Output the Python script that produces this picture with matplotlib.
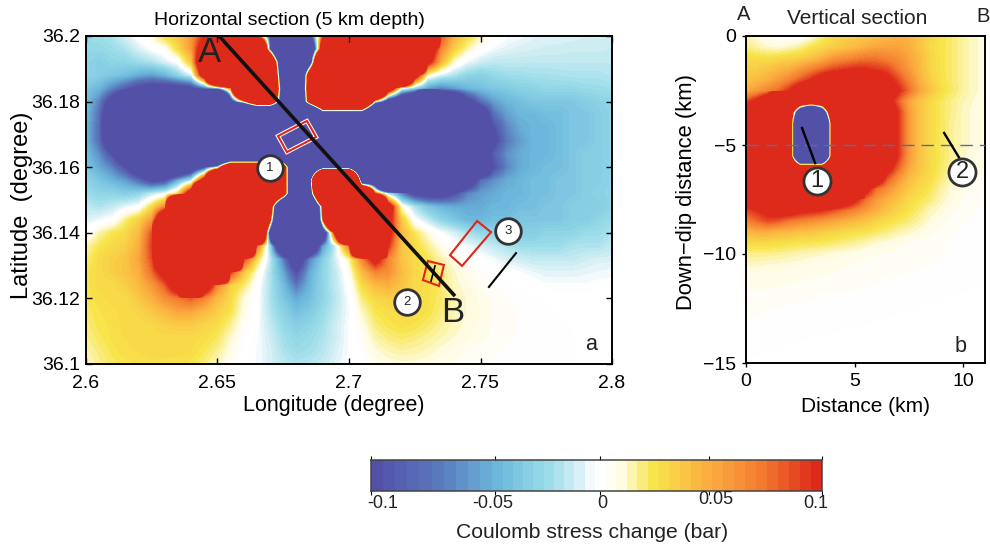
import numpy as np
import matplotlib
matplotlib.use("Agg")
import matplotlib.pyplot as plt
from matplotlib.colors import LinearSegmentedColormap, ListedColormap, Normalize
from matplotlib.patches import Polygon

plt.rcParams['font.family'] = ['Liberation Sans', 'DejaVu Sans']

# Horizontal section, stress in 0.01 bar, columns 2.6..2.8 by 0.005, rows 36.2..36.1 by 0.004
R = 80
B = -80
horizontal = [
[-2.6,-2.4,-2,-1,0,1,3,4,6,10,R,R,R,10,-10,B,B,-12,9,R,R,R,R,R,R,R,R,9,5,3,1.5,.5,-.3,-.5,-.8,-.9,-1,-1,-1.1,-1.1,-1.2],
[-2.8,-2.8,-2.5,-2,-1,-.2,.5,3,6,14,R,R,R,R,-8,B,B,-30,20,R,R,R,R,R,R,R,15,7,3.5,1.5,.2,-.5,-.8,-1,-1.1,-1.2,-1.2,-1.3,-1.3,-1.3,-1.4],
[-3,-3.5,-3,-3,-2.5,-2,-1,0,4,20,R,R,R,R,60,-51,B,-24,R,R,R,R,R,R,R,R,12,5,1,-.5,-1.3,-1.6,-1.6,-1.6,-1.6,-1.6,-1.6,-1.6,-1.6,-1.6,-1.6],
[-3,-3.5,-4,-4.5,-5.5,-6,-5,-3,-1,15,R,R,R,R,R,-45,B,30,R,R,R,R,R,R,R,15,1,-1,-2,-3,-3.3,-2.8,-2.4,-2.4,-2.2,-2.2,-2.1,-2,-2,-2,-1.8],
[-4,-5,-7,-9,-11,-12,-12,-12,-11,-8,-5,8,R,R,R,-30,B,35,R,R,R,R,R,20,.5,-3,-6,-7,-6,-5,-4.5,-4,-3.8,-3.3,-3.2,-2.8,-2.8,-2.8,-2.6,-2.5,-2.4],
[-4.5,-7,-12,-20,B,B,B,B,B,B,B,-15,5,45,45,-30,B,25,R,R,R,R,2,-15,-20,-25,B,-25,-20,-12,-8,-6,-5,-4.5,-4,-4,-4,-4,-3.5,-3.2,-3],
[-4.5,-8,-15,B,B,B,B,B,B,B,B,B,-105,-105,-105,B,B,-120,-36,-36,-36,-36,B,B,B,B,B,B,B,-25,-15,-8,-6,-5,-5,-4.5,-4.5,-4,-4,-3.5,-3],
[-5,-8,-18,B,B,B,B,B,B,B,B,B,B,B,B,B,B,B,B,B,B,B,B,B,B,B,B,B,B,B,-14,-10,-7,-5.5,-5,-5,-4.5,-4,-4,-3.5,-3],
[-5,-8,-15,B,B,B,B,B,B,B,B,B,B,B,B,B,B,B,B,B,B,B,B,B,B,B,B,B,B,B,-14,-11,-7.5,-6,-5,-5,-4.5,-4,-4,-3.5,-3],
[-4.5,-6.5,-10,-15,B,B,B,B,B,B,B,B,B,B,B,B,B,B,B,B,B,B,B,B,B,B,B,B,B,-25,-13,-9,-6.5,-5.5,-5,-5,-4.5,-4,-3.5,-3.5,-3],
[-4,-5.5,-7,-10,-14,-18,-20,-20,-15,-10,-1,50,50,50,50,36,B,B,-24,-24,-24,B,B,B,B,B,B,B,B,B,-20,-10,-7,-5.5,-5,-4.5,-4.5,-4,-3.5,-3.5,-3],
[-3,-4,-5,-6,-8,-11,-10,-5,-1.5,15,R,R,R,R,R,36,B,-30,200,200,200,-35,-25,B,B,B,B,B,-25,-15,-8,-6.5,-5.5,-5,-4.5,-4.5,-4,-4,-3.5,-3.5,-3],
[-2.5,-3,-3,-3.5,-3,-1.5,-.3,3,15,R,R,R,R,R,R,36,B,-30,100,R,R,R,10,-2,-7,-11,-12,-12,-10,-7,-6,-5.5,-5,-5,-4.5,-4.5,-4,-4,-3.5,-3.2,-3],
[-1.5,-2,-1.5,-.7,0,3,7,R,R,R,R,R,R,R,30,B,B,B,15,R,R,R,R,15,1,-2,-4,-5,-5.5,-5.5,-5.5,-5,-5,-4.5,-4.5,-4,-4,-3.5,-3.5,-3.5,-3],
[-1,-.5,0,2,3.5,6,20,R,R,R,R,R,R,R,15,B,B,B,9,R,R,R,R,12,4,0,-1.5,-3,-4,-5,-5,-4.5,-4.5,-4,-4,-4,-4,-3.5,-3.5,-3,-2.5],
[0,1.5,2.5,3,4.5,9,R,R,R,R,R,R,R,R,-15,B,B,B,-20,15,R,R,R,12,4.5,2.5,1,-.2,-1,-2,-2.8,-3,-3.5,-3.5,-3.5,-3,-3,-3,-2.5,-2.5,-2],
[1.5,2.5,3,3.5,5,9.5,R,R,R,R,R,R,R,8,-2.5,-20,B,-20,-6,-1,8,R,R,10,4,3,1.8,.8,0,-.5,-1,-1.5,-2,-2.5,-2.5,-2.5,-2.5,-2,-2,-2,-1.5],
[2,3,3.5,4,5.5,9,20,R,R,R,R,R,10,3,-1.5,-7,-14,-7,-3.5,-1,1.5,7,12,7,4,3,2.5,1.5,.8,.3,0,-.5,-1,-1.2,-1.5,-1.5,-1.5,-1.5,-1.2,-1,-1],
[2.5,3,3.5,4,5,8,12,22,R,R,R,10,4,1,-2,-5.5,-10,-5.5,-3,-1.5,.5,4.5,7,6.5,4.5,3,2.7,2,1.2,.7,.4,.2,0,-.3,-.6,-.8,-.8,-.8,-.7,-.6,-.5],
[2.5,3,3,3.5,4.5,6,8.5,14,R,15,7,3.5,2.2,.2,-2,-4.5,-7.5,-5,-3,-1.5,0,3,4.5,5,4,3,2.8,2.2,1.3,.9,.6,.4,.2,.1,0,-.3,-.3,-.3,-.3,-.2,-.2],
[2.5,2.8,3,3,3.8,5,6.5,7.5,8.5,7,4.5,3,1,0,-2,-4,-5.5,-4.5,-3,-1.7,-.3,2,3,3.5,3.2,3,2.7,2.2,1.5,1.1,.8,.6,.4,.3,.2,.1,0,0,0,0,0],
[2.2,2.6,2.8,3,3.2,3.8,4.6,5.5,5.5,4.5,3.5,2.6,.8,0,-1.8,-3.2,-4.5,-3.8,-2.6,-1.5,-.4,1.3,2.5,2.8,3,3,2.6,2,1.4,1.1,.9,.6,.45,.35,.3,.2,.1,0,0,0,0],
[2,2.5,2.7,3,3,3.1,3.5,3.7,3.7,3.2,2.8,1.8,.5,-.2,-1.5,-2.7,-3.5,-3,-2.3,-1.2,-.3,.8,2,2.5,2.8,2.6,2.2,1.7,1.3,1,.8,.6,.45,.35,.3,.3,.2,.1,0,0,0],
[1.8,2.3,2.7,2.9,3,3,3,3,3,2.8,2.3,1.2,.3,-.3,-1.2,-2.3,-2.9,-2.6,-2,-1.2,-.3,.5,1.5,2,2.2,2,1.7,1.4,1.1,.9,.7,.55,.4,.35,.3,.3,.3,.15,0,0,0],
[1.5,2,2.5,2.8,2.9,3,3,3,2.9,2.4,1.8,.8,.1,-.4,-1,-2,-2.5,-2.3,-1.8,-1,-.3,.3,1,1.4,1.6,1.5,1.3,1,.8,.6,.5,.4,.35,.3,.3,.3,.3,.2,0,0,0],
[1.2,1.8,2.2,2.5,2.7,2.8,2.8,2.7,2.5,2,1.3,.5,0,-.4,-1,-1.6,-2,-1.8,-1.4,-.8,-.2,.2,.6,.9,1,1,.9,.7,.6,.5,.4,.35,.3,.3,.3,.3,.3,.25,0,0,0],
]

# Vertical section, stress in 0.01 bar, columns 0..11 km by 0.5, rows 0..-15 km by 0.5
Q = 60
vertical = [
[1.5,1,.5,.2,.1,.2,.8,2,3,3.3,3.5,3.8,4,4.5,5,4.8,4,3.2,2.6,2.1,1.6,1.2,1],
[2,1.5,1.2,1,1.3,1.7,2.5,3,3.5,4,4.5,5,5.5,5.5,5.5,5,4,3,2.5,2.1,1.6,1.2,1],
[3,2.8,2.7,3,3.2,3.5,4,4.8,6,6.5,7,7.5,7.5,7,6.5,5.5,4.5,3.2,2.5,2.1,1.6,1.2,1],
[3.5,3.5,4,4.5,5,6,7,8,9,9.5,10,10,9.5,9,7.5,6,4.5,3.2,2.5,2.1,1.6,1.2,1],
[4,4.5,5,6,7,8.5,10,12,13,14,14,14,13,11,9,7,5,3.5,2.6,2.1,1.6,1.2,1],
[5,6,7,8,10,13,15,Q,Q,Q,Q,Q,18,13,10.5,8,5.5,4,2.8,2.2,1.6,1.2,1],
[9,11,15,Q,Q,40,40,40,Q,Q,Q,Q,16,12,8.5,5.5,4,3,2.3,1.8,1.4,1.1,.9],
[12,15,Q,Q,36,-36,B,-36,45,Q,Q,Q,Q,14,10,6,4,3,2.3,1.8,1.3,1,.9],
[15,Q,Q,Q,36,B,B,B,30,Q,Q,Q,Q,15,10,6,4,3,2.3,1.7,1.3,1,.8],
[15,Q,Q,Q,36,B,B,B,30,Q,Q,Q,Q,15,10,6,4,3,2.3,1.7,1.3,1,.8],
[15,Q,Q,Q,36,B,B,B,30,Q,Q,Q,Q,15,10,6,4,3,2.3,1.7,1.3,1,.8],
[15,Q,Q,Q,36,B,B,B,30,Q,Q,Q,Q,14,10,6,4,3,2.3,1.7,1.2,.9,.7],
[15,Q,Q,Q,Q,24,24,24,Q,Q,Q,Q,Q,12,8.5,5.5,4,3,2.2,1.6,1.1,.8,.6],
[15,Q,Q,Q,Q,Q,Q,Q,Q,Q,Q,Q,15,9,6.5,4.5,3.5,2.8,2,1.4,.9,.7,.5],
[14,Q,Q,Q,Q,Q,Q,Q,Q,Q,Q,12,8,6.5,5,3.8,3,2.4,1.6,1,.7,.5,.4],
[12,15,Q,Q,Q,Q,Q,Q,16,14,11,8,6,5,4,3,2.5,2,1.3,.9,.6,.5,.4],
[9,10,11,12,12,11,10.5,10,9,8,7,6,5,4,3.2,2.6,2,1.3,1,.7,.5,.4,.35],
[7,8,9,8.5,7.5,7,6.5,6,5.5,5,4.5,4,3.3,2.8,2.4,2,1.5,1,.7,.5,.4,.35,.3],
[4.5,5,5,4.6,4.5,4,4,3.6,3.3,3,2.7,2.5,2.2,1.9,1.5,1.2,.9,.7,.5,.4,.35,.3,.3],
[3,3,3,2.8,2.6,2.5,2.4,2.3,2.1,1.9,1.7,1.4,1.1,.9,.7,.6,.5,.45,.4,.35,.32,.3,.28],
[1.8,1.8,1.8,1.7,1.6,1.4,1.3,1.2,1,.9,.8,.7,.65,.6,.55,.5,.45,.42,.38,.35,.32,.3,.27],
[1.2,1.2,1.1,1.05,.95,.9,.8,.75,.7,.65,.6,.55,.5,.48,.45,.42,.4,.38,.35,.33,.3,.28,.24],
[.8,.78,.75,.72,.7,.68,.66,.63,.6,.58,.55,.5,.45,.42,.38,.35,.32,.3,.27,.24,.22,.2,.18],
[.7,.68,.65,.62,.6,.58,.55,.52,.48,.45,.42,.38,.35,.32,.3,.27,.24,.22,.2,.18,.16,.14,.12],
[.55,.52,.5,.48,.45,.42,.4,.37,.34,.32,.3,.28,.26,.24,.22,.2,.18,.16,.14,.12,.1,.1,.1],
[.45,.42,.4,.37,.35,.33,.31,.29,.27,.26,.24,.22,.2,.18,.16,.14,.12,.1,.1,.1,.1,.1,.1],
[.38,.36,.34,.32,.3,.28,.26,.24,.22,.2,.18,.16,.14,.12,.1,.1,.1,.1,.1,.1,.1,.1,.1],
[.32,.3,.27,.25,.22,.2,.18,.16,.14,.12,.1,.1,.1,.1,.1,.1,.1,.1,.1,.1,.1,.1,.1],
[.25,.22,.2,.17,.15,.12,.1,.1,.1,.1,.1,.1,.1,.1,.1,.1,.1,.1,.1,.1,.1,.1,.1],
[.15,.14,.13,.12,.1,.1,.1,.1,.1,.1,.1,.1,.1,.1,.1,.1,.1,.1,.1,.1,.1,.1,.1],
[.1,.1,.1,.1,.1,.1,.1,.1,.1,.1,.1,.1,.1,.1,.1,.1,.1,.1,.1,.1,.1,.1,.1],
]

lon_ticks = [2.6, 2.65, 2.7, 2.75, 2.8]
lat_ticks = [36.1, 36.12, 36.14, 36.16, 36.18, 36.2]
dist_ticks = [0, 5, 10]
depth_ticks = [-15, -10, -5, 0]

section_lon = [2.6506, 2.7403]
section_lat = [36.2, 36.1207]
fault1_lon = [2.6730, 2.6840, 2.6875, 2.6764]
fault1_lat = [36.1695, 36.1741, 36.1692, 36.1646]
fault2_lon = [2.7300, 2.7361, 2.7342, 2.7281]
fault2_lat = [36.1314, 36.1302, 36.1238, 36.1256]
fault3_lon = [2.7487, 2.7540, 2.7430, 2.7384]
fault3_lat = [36.1436, 36.1402, 36.1299, 36.1332]
trace2_lon = [2.7327, 2.7312]
trace2_lat = [36.1299, 36.1253]
trace3_lon = [2.7635, 2.7532]
trace3_lat = [36.1338, 36.1235]
badge_lon = [2.6700, 2.7221, 2.7605]
badge_lat = [36.1598, 36.1189, 36.1405]
v_badge_x = [3.27, 9.95]
v_badge_y = [-6.65, -6.24]
v_trace1_x = [2.58, 3.18]
v_trace1_y = [-4.22, -5.83]
v_trace2_x = [9.12, 9.82]
v_trace2_y = [-4.45, -5.6]

cb_values = [-10, -7.5, -5, -2.5, -1, -.25, .25, 1, 2.5, 5, 7.5, 10]
cb_colors = ['#5350a8', '#5a78bc', '#6cb8dc', '#9adde9', '#d8f0f6', '#ffffff', '#ffffff',
             '#fffbe0', '#f8e54c', '#fbb040', '#f47b30', '#dd2a1a']
cb_ticks = [-0.1, -0.05, 0, 0.05, 0.1]
cb_tick_labels = ['-0.1', '-0.05', '0', '0.05', '0.1']
cb_tick_frac = [0, 0.275, 0.508, 0.75, 1]

W, H = 990, 546
def box(l, t, r, b):
    return [l / W, 1 - b / H, (r - l) / W, (b - t) / H]

pos = [(v + 10) / 20 for v in cb_values]
base = LinearSegmentedColormap.from_list('cfs', list(zip(pos, cb_colors)), N=512)
cmap = ListedColormap(base(np.linspace(0, 1, 81)))
norm = Normalize(-10.125, 10.125)

fig = plt.figure(figsize=(W / 100, H / 100), dpi=100)

# panel a
ax = fig.add_axes(box(86, 36, 612, 364))
H_arr = np.array(horizontal, dtype=float)
ax.imshow(H_arr, cmap=cmap, norm=norm, interpolation='bilinear', interpolation_stage='data',
          aspect='auto', origin='upper', extent=(2.6 - .0025, 2.8 + .0025, 36.1 - .002, 36.2 + .002))
ax.set_xlim(2.6, 2.8)
ax.set_ylim(36.1, 36.2)
ax.set_xticks(lon_ticks)
ax.set_xticklabels([f'{t:g}' for t in lon_ticks])
ax.set_yticks(lat_ticks)
ax.set_yticklabels([f'{t:g}' for t in lat_ticks])
ax.tick_params(direction='in', top=True, right=True, length=4, width=1, labelsize=14)
ax.tick_params(axis='x', pad=8)
ax.tick_params(axis='y', pad=4)
ax.set_xlabel('Longitude (degree)', fontsize=15.5)
ax.xaxis.set_label_coords(0.471, -0.0945)
ax.set_ylabel('Latitude  (degree)', fontsize=17)
ax.yaxis.set_label_coords(-0.10, 0.485)
ax.set_title('Horizontal section (5 km depth)', fontsize=14, pad=8, x=0.387)
for s in ax.spines.values():
    s.set_linewidth(1.4)
for lo, la in ((fault1_lon, fault1_lat), (fault2_lon, fault2_lat), (fault3_lon, fault3_lat)):
    if lo is fault1_lon:
        ax.add_patch(Polygon(list(zip(lo, la)), closed=True, fill=False, ec='white', lw=3, zorder=3))
    ax.add_patch(Polygon(list(zip(lo, la)), closed=True, fill=False, ec='#e0251b', lw=1.5, zorder=3))
ax.plot(section_lon, section_lat, color='#111111', lw=2.6, zorder=4, solid_capstyle='butt')
ax.plot(trace2_lon, trace2_lat, color='black', lw=1.2, zorder=4)
ax.plot(trace3_lon, trace3_lat, color='black', lw=1.5, zorder=4)
ax.scatter(badge_lon, badge_lat, s=340, c='white', edgecolors='#333333', linewidths=2, zorder=5)
for i, (a, b) in enumerate(zip(badge_lon, badge_lat)):
    ax.text(a, b, str(i + 1), fontsize=9.5, ha='center', va='center', color='#222222', zorder=6)
fig.text(209 / W, 1 - 52 / H, 'A', fontsize=25, ha='center', va='center', color='#222222', zorder=10)
fig.text(453 / W, 1 - 312 / H, 'B', fontsize=25, ha='center', va='center', color='#222222', zorder=10)
fig.text(591 / W, 1 - 345 / H, 'a', fontsize=15.5, ha='center', va='center', color='#222222', zorder=10)

# panel b
bx = fig.add_axes(box(746, 36, 985, 363))
V_arr = np.array(vertical, dtype=float)
bx.imshow(V_arr, cmap=cmap, norm=norm, interpolation='bilinear', interpolation_stage='data',
          aspect='auto', origin='upper', extent=(-.25, 11.25, -15.25, .25))
bx.set_xlim(0, 11)
bx.set_ylim(-15, 0)
bx.set_xticks(dist_ticks)
bx.set_yticks(depth_ticks)
bx.set_yticklabels(['\u221215', '\u221210', '\u22125', '0'])
bx.tick_params(direction='out', length=3, width=1, labelsize=14, pad=4)
bx.set_xlabel('Distance (km)', fontsize=15, labelpad=5)
bx.set_ylabel('Down\u2212dip distance (km)', fontsize=15.8)
bx.yaxis.set_label_coords(-0.205, 0.523)
for s in bx.spines.values():
    s.set_linewidth(1.4)
bx.axhline(-5, color='#5b6aa8', lw=1, dashes=(9, 5), zorder=3)
bx.plot(v_trace1_x, v_trace1_y, color='black', lw=1.7, zorder=4)
bx.plot(v_trace2_x, v_trace2_y, color='black', lw=1.7, zorder=4)
bx.scatter(v_badge_x, v_badge_y, s=380, c='white', edgecolors='#333333', linewidths=2, zorder=5, clip_on=False)
for i, (a, b) in enumerate(zip(v_badge_x, v_badge_y)):
    bx.text(a, b, str(i + 1), fontsize=17, ha='center', va='center', color='#222222', zorder=6)
fig.text(857 / W, 1 - 18 / H, 'Vertical section', fontsize=15, ha='center', va='center', color='#222222')
fig.text(744 / W, 1 - 15 / H, 'A', fontsize=14.5, ha='center', va='center', color='#222222')
fig.text(983 / W, 1 - 16 / H, 'B', fontsize=14.5, ha='center', va='center', color='#222222')
fig.text(961 / W, 1 - 347 / H, 'b', fontsize=15.5, ha='center', va='center', color='#222222')

# colour bar
cx = fig.add_axes(box(371, 460, 822, 491))
to_frac = lambda v: np.interp(v, cb_ticks, cb_tick_frac)
from_frac = lambda f: np.interp(f, cb_tick_frac, cb_ticks)
cx.set_xscale('function', functions=(to_frac, from_frac))
edges = np.linspace(-0.1, 0.1, 42)
cx.pcolormesh(edges, [0, 1], np.linspace(-10, 10, 41)[None, :], cmap=cmap, norm=norm, shading='flat')
cx.set_xlim(-0.1, 0.1)
cx.set_ylim(0, 1)
cx.set_yticks([])
cx.set_xticks(cb_ticks)
cx.set_xticklabels([])
cx.minorticks_off()
cx.tick_params(axis='x', top=True, bottom=True, direction='out', length=3, width=0.8)
for s in cx.spines.values():
    s.set_linewidth(1.1)
    s.set_color('#444444')
label_px = [383, 493, 602, 716, 816]
label_py = [503, 503, 503, 499, 503]
for t, x_, y_ in zip(cb_tick_labels, label_px, label_py):
    fig.text(x_ / W, 1 - y_ / H, t, fontsize=13, ha='center', va='center', color='#222222')
fig.text(592 / W, 1 - 532 / H, 'Coulomb stress change (bar)', fontsize=15.2, ha='center', va='center', color='#222222')

fig.savefig('out.png', dpi=100)
